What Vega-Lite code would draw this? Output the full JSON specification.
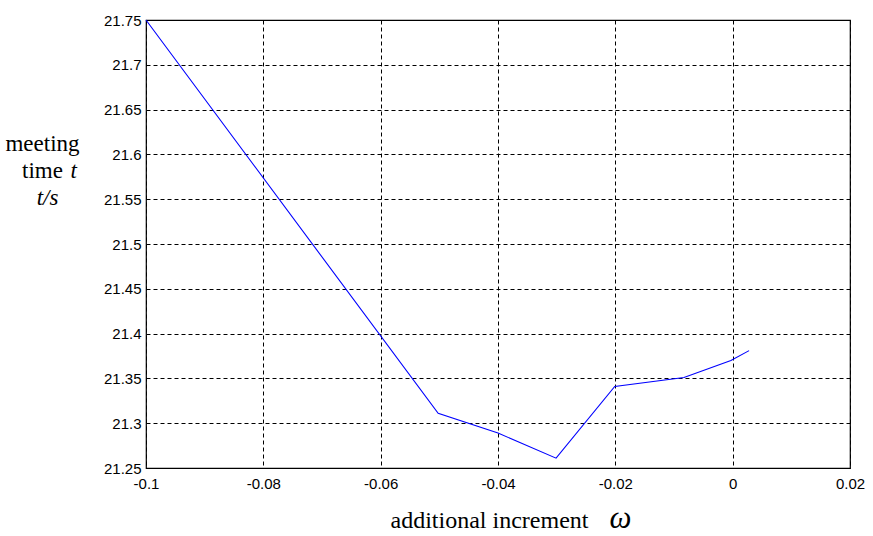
{
  "$schema": "https://vega.github.io/schema/vega-lite/v6.json",
  "width": 704,
  "height": 448,
  "autosize": {"type": "none"},
  "padding": {"left": 146, "top": 20, "right": 23, "bottom": 68},
  "background": "white",
  "config": {
    "view": {"stroke": "black", "strokeWidth": 1.2},
    "axis": {
      "ticks": false,
      "domain": false,
      "labelFont": "Liberation Sans",
      "labelFontSize": 15,
      "labelColor": "black",
      "titleFont": "Liberation Serif",
      "titleFontWeight": "normal",
      "titleFontSize": 23,
      "titleColor": "black"
    }
  },
  "data": {
    "values": [
      {"w": -0.1, "t": 21.75},
      {"w": -0.0502, "t": 21.311},
      {"w": -0.04, "t": 21.289},
      {"w": -0.0301, "t": 21.261},
      {"w": -0.0201, "t": 21.341},
      {"w": -0.0083, "t": 21.351},
      {"w": -0.0003, "t": 21.37},
      {"w": 0.0028, "t": 21.381}
    ]
  },
  "resolve": {"axis": {"x": "independent", "y": "independent"}},
  "layer": [
    {
      "mark": {"type": "line", "color": "#0000ff", "strokeWidth": 1.1},
      "encoding": {
        "x": {
          "field": "w",
          "type": "quantitative",
          "scale": {"domain": [-0.1, 0.02], "nice": false, "zero": false},
          "axis": {
            "orient": "bottom",
            "grid": true,
            "gridColor": "black",
            "gridDash": [4, 3],
            "gridWidth": 1,
            "values": [-0.1, -0.08, -0.06, -0.04, -0.02, 0, 0.02],
            "labelExpr": "'' + datum.value",
            "labelFlush": false,
            "labelPadding": 8,
            "title": "additional increment",
            "titleFontSize": 24,
            "titleX": 343,
            "titleAlign": "center",
            "titleY": 59,
            "titleBaseline": "alphabetic"
          }
        },
        "y": {
          "field": "t",
          "type": "quantitative",
          "scale": {"domain": [21.25, 21.75], "nice": false, "zero": false},
          "axis": {
            "orient": "left",
            "grid": true,
            "gridColor": "black",
            "gridDash": [4, 3],
            "gridWidth": 1,
            "values": [21.25, 21.3, 21.35, 21.4, 21.45, 21.5, 21.55, 21.6, 21.65, 21.7, 21.75],
            "labelExpr": "'' + datum.value",
            "labelFlush": false,
            "labelPadding": 5,
            "title": ["meeting", "time"],
            "titleAngle": 0,
            "titleAlign": "center",
            "titleBaseline": "alphabetic",
            "titleLineHeight": 27,
            "titleX": -104,
            "titleY": 130
          }
        }
      }
    },
    {
      "mark": {"type": "line", "strokeOpacity": 0},
      "encoding": {
        "x": {
          "field": "w",
          "type": "quantitative",
          "axis": {
            "orient": "bottom",
            "grid": false,
            "labels": false,
            "title": "ω",
            "titleFontStyle": "italic",
            "titleFontSize": 31,
            "titleX": 474,
            "titleAlign": "center",
            "titleY": 59,
            "titleBaseline": "alphabetic"
          }
        },
        "y": {
          "field": "t",
          "type": "quantitative",
          "axis": {
            "orient": "left",
            "grid": false,
            "labels": false,
            "title": "t",
            "titleFontStyle": "italic",
            "titleAngle": 0,
            "titleAlign": "left",
            "titleBaseline": "alphabetic",
            "titleX": -76,
            "titleY": 157
          }
        }
      }
    },
    {
      "mark": {"type": "line", "strokeOpacity": 0},
      "encoding": {
        "x": {"field": "w", "type": "quantitative", "axis": null},
        "y": {
          "field": "t",
          "type": "quantitative",
          "axis": {
            "orient": "left",
            "grid": false,
            "labels": false,
            "title": "t/s",
            "titleFontStyle": "italic",
            "titleAngle": 0,
            "titleAlign": "center",
            "titleBaseline": "alphabetic",
            "titleX": -99,
            "titleY": 184
          }
        }
      }
    }
  ]
}
